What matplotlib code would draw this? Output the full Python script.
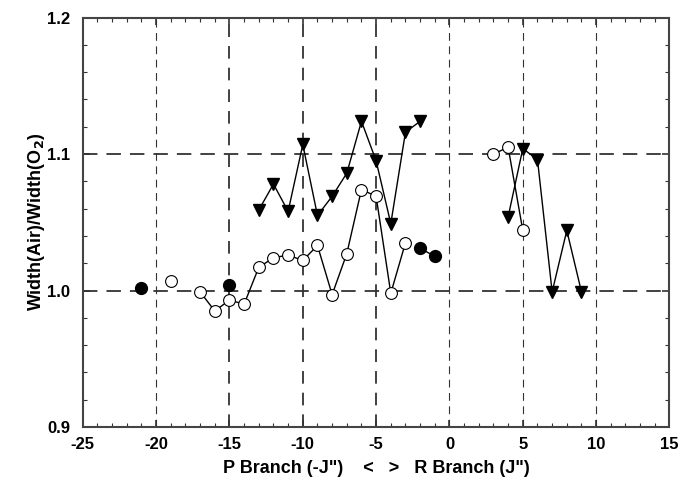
import matplotlib
matplotlib.use("Agg")
import matplotlib.pyplot as plt
from matplotlib.ticker import MultipleLocator

plt.rcParams['font.family'] = ['Liberation Sans', 'DejaVu Sans']
plt.rcParams['font.weight'] = 'bold'

# P-branch open circles (connected)
p_open_x = [-17, -16, -15, -14, -13, -12, -11, -10, -9, -8, -7, -6, -5, -4, -3]
p_open_y = [0.999, 0.985, 0.993, 0.990, 1.017, 1.024, 1.026, 1.022, 1.033, 0.997,
            1.027, 1.074, 1.069, 0.998, 1.035]
# isolated open circle
iso_open_x = [-19]
iso_open_y = [1.007]
# isolated filled circles
iso_filled_x = [-21, -15]
iso_filled_y = [1.002, 1.004]
# connected filled circles
p_filled_x = [-2, -1]
p_filled_y = [1.031, 1.025]
# P-branch triangles
p_tri_x = [-13, -12, -11, -10, -9, -8, -7, -6, -5, -4, -3, -2]
p_tri_y = [1.059, 1.078, 1.058, 1.107, 1.055, 1.069, 1.086, 1.124, 1.095, 1.049, 1.116, 1.124]
# R-branch open circles
r_open_x = [3, 4, 5]
r_open_y = [1.100, 1.105, 1.044]
# R-branch triangles
r_tri_x = [4, 5, 6, 7, 8, 9]
r_tri_y = [1.054, 1.104, 1.096, 0.999, 1.044, 0.999]

fig = plt.figure(figsize=(6.87, 4.88), dpi=100)
ax = fig.add_axes([0.1205, 0.125, 0.854, 0.839])

ax.set_xlim(-25, 15)
ax.set_ylim(0.9, 1.2)

grid_col = '#333333'
for xv in [-20, 0, 5, 10]:
    ax.axvline(xv, color=grid_col, lw=0.8, dashes=(7, 5), zorder=1)
for xv in [-15, -10, -5]:
    ax.axvline(xv, color=grid_col, lw=1.3, dashes=(7, 5), zorder=1)
for yv in [1.0, 1.1]:
    ax.axhline(yv, color=grid_col, lw=1.3, dashes=(8, 5), zorder=1)

ms_c = 8.5
ms_t = 8.5
ax.plot(p_tri_x, p_tri_y, color='black', lw=1, marker='v', ms=ms_t, mfc='black', mec='black', zorder=3)
ax.plot(r_tri_x, r_tri_y, color='black', lw=1, marker='v', ms=ms_t, mfc='black', mec='black', zorder=3)
ax.plot(p_open_x, p_open_y, color='black', lw=1, marker='o', ms=ms_c, mfc='white', mec='black', mew=0.8, zorder=4)
ax.plot(r_open_x, r_open_y, color='black', lw=1, marker='o', ms=ms_c, mfc='white', mec='black', mew=0.8, zorder=4)
ax.plot(iso_open_x, iso_open_y, ls='none', marker='o', ms=ms_c, mfc='white', mec='black', mew=0.8, zorder=4)
ax.plot(iso_filled_x, iso_filled_y, ls='none', marker='o', ms=ms_c, mfc='black', mec='black', zorder=4)
ax.plot(p_filled_x, p_filled_y, color='black', lw=1, marker='o', ms=ms_c, mfc='black', mec='black', zorder=4)

ax.xaxis.set_major_locator(MultipleLocator(5))
ax.xaxis.set_minor_locator(MultipleLocator(1))
ax.yaxis.set_major_locator(MultipleLocator(0.1))
ax.yaxis.set_minor_locator(MultipleLocator(0.02))
ax.set_xticks([-25, -20, -15, -10, -5, 0, 5, 10, 15])
ax.set_xticklabels(['-25', '-20', '-15', '-10', '-5', '0', '5', '10', '15'])
ax.set_yticks([0.9, 1.0, 1.1, 1.2])
ax.set_yticklabels(['0.9', '1.0', '1.1', '1.2'])

ax.tick_params(which='both', direction='in', top=True, right=True, color='#333333',
               labelsize=12)
ax.tick_params(axis='y', pad=9)
ax.tick_params(axis='x', pad=7)
ax.tick_params(which='major', length=5, width=1.2)
ax.tick_params(which='minor', length=3, width=0.8)
for lab in ax.get_xticklabels() + ax.get_yticklabels():
    lab.set_fontweight('bold')

for s in ax.spines.values():
    s.set_color('#444444')
    s.set_linewidth(1.5)

ax.set_xlabel('P Branch (-J")    <   >   R Branch (J")', fontsize=13, fontweight='bold', labelpad=6)
ax.set_ylabel('Width(Air)/Width(O$_\\mathbf{2}$)', fontsize=13, fontweight='bold', labelpad=0)

fig.savefig('out.png', dpi=100)
